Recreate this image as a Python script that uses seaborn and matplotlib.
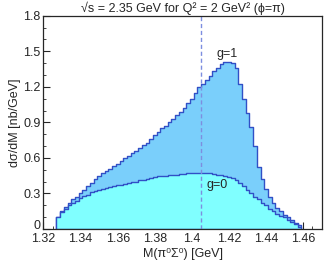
import numpy as np
import pandas as pd
import matplotlib
matplotlib.use("Agg")
import matplotlib.pyplot as plt
import seaborn as sns

# histogram binning of M(pi0 Sigma0) [GeV]
m_lo, m_hi, bw = 1.327, 1.459, 0.002
edges = np.linspace(m_lo, m_hi, 67)
centers = (edges[:-1] + edges[1:]) / 2

# dsigma/dM [nb/GeV]
g1 = [0.10, 0.15, 0.19, 0.22, 0.25, 0.27, 0.30, 0.33, 0.36, 0.39,
      0.42, 0.45, 0.47, 0.49, 0.51, 0.53, 0.55, 0.57, 0.60, 0.62,
      0.64, 0.66, 0.68, 0.71, 0.73, 0.76, 0.79, 0.82, 0.85, 0.87,
      0.90, 0.93, 0.96, 0.99, 1.02, 1.06, 1.10, 1.15, 1.20, 1.22,
      1.26, 1.29, 1.33, 1.36, 1.39, 1.41, 1.41, 1.40, 1.36, 1.22,
      1.10, 0.98, 0.86, 0.70, 0.52, 0.42, 0.34, 0.27, 0.22, 0.18,
      0.15, 0.12, 0.10, 0.08, 0.05, 0.03]
g0 = [0.10, 0.14, 0.17, 0.20, 0.22, 0.24, 0.26, 0.28, 0.29, 0.31,
      0.32, 0.33, 0.34, 0.35, 0.355, 0.36, 0.37, 0.375, 0.38, 0.39,
      0.395, 0.40, 0.41, 0.415, 0.42, 0.43, 0.44, 0.445, 0.45, 0.45,
      0.455, 0.46, 0.46, 0.465, 0.465, 0.47, 0.47, 0.47, 0.475, 0.47,
      0.47, 0.47, 0.465, 0.46, 0.455, 0.45, 0.44, 0.43, 0.41, 0.39,
      0.36, 0.33, 0.30, 0.27, 0.25, 0.22, 0.20, 0.17, 0.15, 0.13,
      0.11, 0.10, 0.08, 0.06, 0.04, 0.02]

m_lambda = 1.405

xticks = [1.32, 1.34, 1.36, 1.38, 1.40, 1.42, 1.44, 1.46]
xticklabels = ["1.32", "1.34", "1.36", "1.38", "1.4", "1.42", "1.44", "1.46"]
yticks = [0, 0.3, 0.6, 0.9, 1.2, 1.5, 1.8]
yticklabels = ["0", "0.3", "0.6", "0.9", "1.2", "1.5", "1.8"]

df = pd.DataFrame({"M": centers, "g1": g1, "g0": g0})

sns.set_style("ticks")
plt.rcParams['font.family'] = ['Liberation Sans', 'DejaVu Sans']
plt.rcParams['font.size'] = 9

fig = plt.figure(figsize=(3.27, 2.73), dpi=100)
ax = fig.add_axes([0.133, 0.161, 0.851, 0.7815])

line_col = "#3150c6"
sns.histplot(data=df, x="M", weights="g1", binwidth=bw, binrange=(m_lo, m_hi),
             element="step", fill=True, color="#7acffb", alpha=1,
             edgecolor=line_col, linewidth=1.0, ax=ax)
sns.histplot(data=df, x="M", weights="g0", binwidth=bw, binrange=(m_lo, m_hi),
             element="step", fill=True, color="#80ffff", alpha=1,
             edgecolor=line_col, linewidth=1.0, ax=ax)

ax.axvline(m_lambda, color="#7d8ee0", linestyle=(0, (3, 2)), linewidth=1.0)

ax.text(1.4133, 1.45, "g=1", fontsize=9)
ax.text(1.4077, 0.35, "g=0", fontsize=9)

ax.set_xlim(1.32, 1.47)
ax.set_ylim(0, 1.8)
ax.set_xticks(xticks)
ax.set_xticklabels(xticklabels)
ax.set_yticks(yticks)
ax.set_yticklabels(yticklabels)
ax.set_xticks(np.arange(1.32, 1.47, 0.005), minor=True)
ax.set_yticks(np.arange(0, 1.8, 0.1), minor=True)
ax.tick_params(direction="in", length=5, width=0.8, labelsize=9, pad=2)
ax.tick_params(axis="x", pad=3)
ax.tick_params(which="minor", direction="in", length=2.5, width=0.6)
ax.get_yticklabels()[0].set_va("baseline")
for s in ax.spines.values():
    s.set_linewidth(0.9)
    s.set_visible(True)

ax.set_xlabel("M(π⁰Σ⁰) [GeV]", fontsize=9, labelpad=2)
ax.set_ylabel("dσ/dM [nb/GeV]", fontsize=9, labelpad=2)
ax.set_title("√s = 2.35 GeV for Q² = 2 GeV² (ϕ=π)", fontsize=9, pad=3)

fig.savefig("out.png", dpi=100)
